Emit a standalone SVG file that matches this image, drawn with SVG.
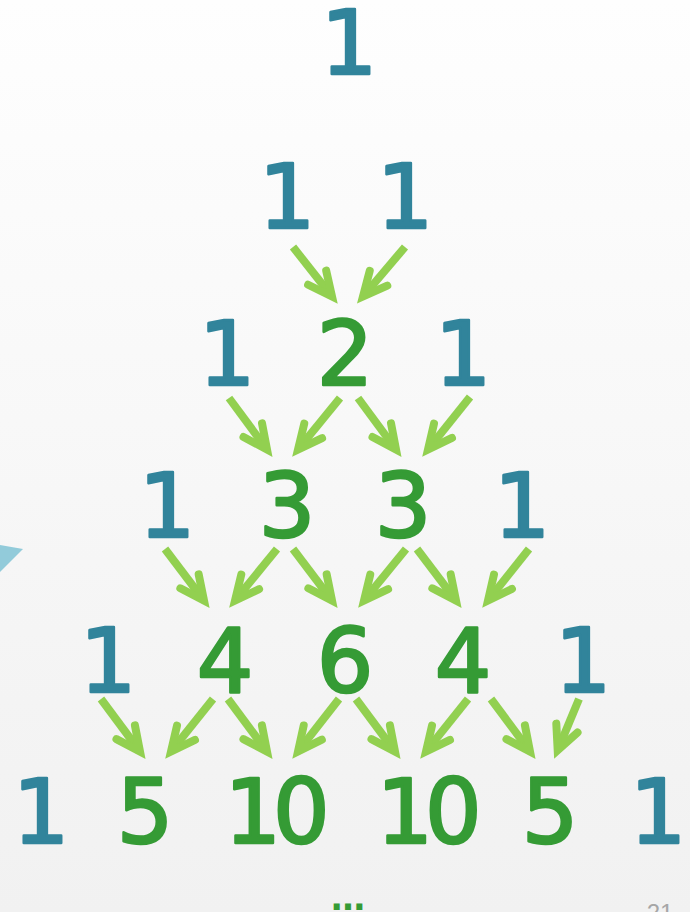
<svg xmlns="http://www.w3.org/2000/svg" width="690" height="912" viewBox="0 0 690 912">
<defs>
<linearGradient id="bg" x1="0" y1="0" x2="0" y2="1">
<stop offset="0" stop-color="#fefefe"/>
<stop offset="1" stop-color="#f1f1f1"/>
</linearGradient>
<marker id="ah" markerUnits="userSpaceOnUse" viewBox="-30 -20 40 40" markerWidth="40" markerHeight="40" refX="0" refY="0" orient="auto" overflow="visible">
<path d="M-24,-11.5 L0,0 L-24,11.5" fill="none" stroke="#92d050" stroke-width="8" stroke-linejoin="miter" stroke-linecap="round"/>
</marker>
<style>
.n{font-family:"DejaVu Sans",sans-serif;font-size:89px;text-anchor:middle;stroke-width:2.6;stroke-linejoin:round}
.b{fill:#31849b;stroke:#31849b}
.g{fill:#359b35;stroke:#359b35}
.a{fill:none;stroke:#92d050;stroke-width:8;stroke-linecap:butt;marker-end:url(#ah)}
</style>
</defs>
<rect width="690" height="912" fill="url(#bg)"/>
<polygon points="0,545 23,549 0,572" fill="#92cbda"/>
<g id="connectors">
<path class="a" d="M293,247 L332,296.5"/>
<path class="a" d="M405,247 L363,296.5"/>
<path class="a" d="M229,398 L267,449.5"/>
<path class="a" d="M340,398 L298,449.5"/>
<path class="a" d="M358,398 L396,449.5"/>
<path class="a" d="M470,397 L428,449.5"/>
<path class="a" d="M165,549 L204,600.5"/>
<path class="a" d="M277,549 L235,600.5"/>
<path class="a" d="M293,549 L332,600.5"/>
<path class="a" d="M406,549 L364,600.5"/>
<path class="a" d="M417,549 L456,600.5"/>
<path class="a" d="M529,549 L488,600.5"/>
<path class="a" d="M101,699 L140,751.5"/>
<path class="a" d="M213,699 L171,751.5"/>
<path class="a" d="M228,699 L267,751.5"/>
<path class="a" d="M339,699 L298,751.5"/>
<path class="a" d="M356,699 L395,751.5"/>
<path class="a" d="M468,699 L426,751.5"/>
<path class="a" d="M491,699 L530,751.5"/>
<path class="a" d="M579,699 L557.7,750.2"/>
</g>
<g id="r0c0"><text class="n b" x="349" y="74">1</text></g>
<g id="r1c0"><text class="n b" x="287" y="228">1</text></g>
<g id="r1c1"><text class="n b" x="405" y="228">1</text></g>
<g id="r2c0"><text class="n b" x="227" y="385">1</text></g>
<g id="r2c1"><text class="n g" x="345" y="385">2</text></g>
<g id="r2c2"><text class="n b" x="463" y="385">1</text></g>
<g id="r3c0"><text class="n b" x="167" y="537">1</text></g>
<g id="r3c1"><text class="n g" x="287" y="537">3</text></g>
<g id="r3c2"><text class="n g" x="403" y="537">3</text></g>
<g id="r3c3"><text class="n b" x="522" y="537">1</text></g>
<g id="r4c0"><text class="n b" x="108" y="692">1</text></g>
<g id="r4c1"><text class="n g" x="225" y="692">4</text></g>
<g id="r4c2"><text class="n g" x="345" y="692">6</text></g>
<g id="r4c3"><text class="n g" x="463" y="692">4</text></g>
<g id="r4c4"><text class="n b" x="583" y="692">1</text></g>
<g id="r5c0"><text class="n b" x="41" y="843">1</text></g>
<g id="r5c1"><text class="n g" x="145" y="843">5</text></g>
<g id="r5c2"><text class="n g" x="273" y="843" letter-spacing="-8">10</text></g>
<g id="r5c3"><text class="n g" x="425" y="843" letter-spacing="-8">10</text></g>
<g id="r5c4"><text class="n g" x="550" y="843">5</text></g>
<g id="r5c5"><text class="n b" x="658" y="843">1</text></g>
<text x="348" y="910" font-family="DejaVu Sans, sans-serif" font-weight="bold" font-size="34" fill="#359b35" text-anchor="middle">…</text>
<text x="660" y="921" font-family="Liberation Sans, sans-serif" font-size="24" fill="#a6a6a6" text-anchor="middle">21</text>
</svg>
